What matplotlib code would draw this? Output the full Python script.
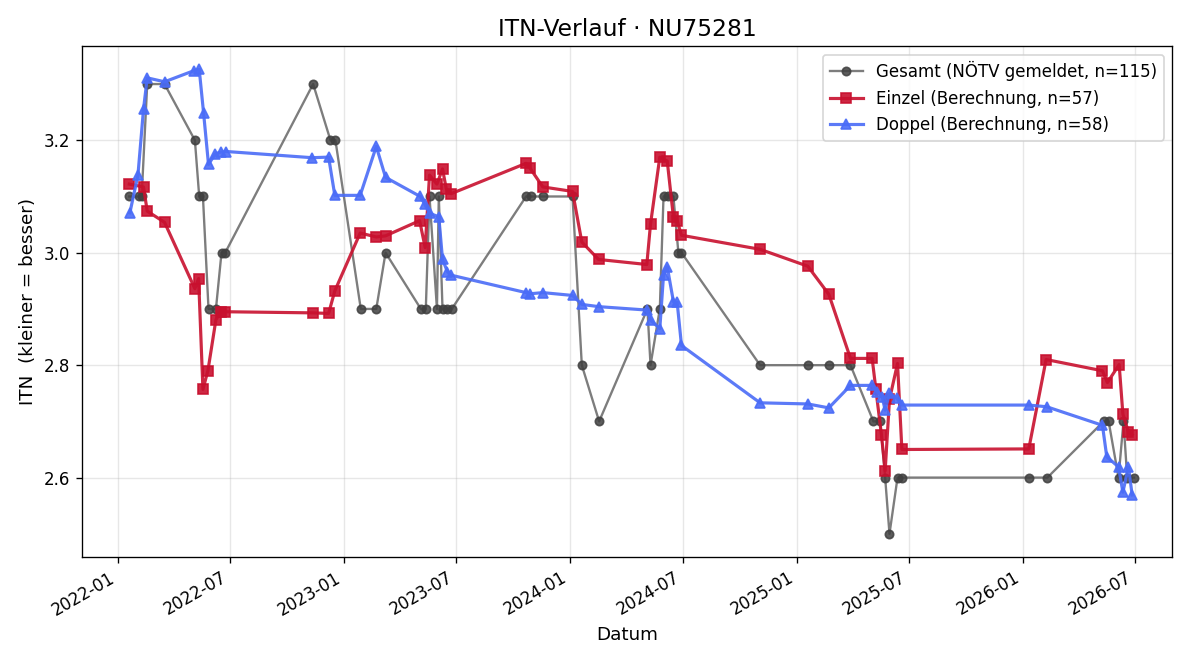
import pandas as pd
import matplotlib.pyplot as plt
import matplotlib.dates as mdates

# Gesamt (NÖTV gemeldet)
ges_dates = ["2022-01-19", "2022-02-03", "2022-02-08", "2022-02-17", "2022-03-17",
             "2022-05-05", "2022-05-12", "2022-05-18", "2022-05-27", "2022-06-08",
             "2022-06-17", "2022-06-23", "2022-11-12", "2022-12-10", "2022-12-18",
             "2023-01-28", "2023-02-22", "2023-03-09", "2023-05-05", "2023-05-13",
             "2023-05-19", "2023-05-31", "2023-06-03", "2023-06-09", "2023-06-17",
             "2023-06-24", "2023-10-22", "2023-10-30", "2023-11-18", "2024-01-05",
             "2024-01-20", "2024-02-17", "2024-05-05", "2024-05-10", "2024-05-25",
             "2024-05-31", "2024-06-08", "2024-06-16", "2024-06-24", "2024-06-29",
             "2024-11-03", "2025-01-19", "2025-02-22", "2025-03-29", "2025-05-05",
             "2025-05-16", "2025-05-24", "2025-05-31", "2025-06-13", "2025-06-20",
             "2026-01-12", "2026-02-10", "2026-05-12", "2026-05-20", "2026-06-05",
             "2026-06-13", "2026-06-19", "2026-06-30"]
ges_vals = [3.1, 3.1, 3.1, 3.3, 3.3,
            3.2, 3.1, 3.1, 2.9, 2.9,
            3.0, 3.0, 3.3, 3.2, 3.2,
            2.9, 2.9, 3.0, 2.9, 2.9,
            3.1, 2.9, 3.1, 2.9, 2.9,
            2.9, 3.1, 3.1, 3.1, 3.1,
            2.8, 2.7, 2.9, 2.8, 2.9,
            3.1, 3.1, 3.1, 3.0, 3.0,
            2.8, 2.8, 2.8, 2.8, 2.7,
            2.7, 2.6, 2.5, 2.6, 2.6,
            2.6, 2.6, 2.7, 2.7, 2.6,
            2.7, 2.6, 2.6]

# Einzel (Berechnung)
ein_dates = ["2022-01-19", "2022-02-11", "2022-02-17", "2022-03-17", "2022-05-05",
             "2022-05-11", "2022-05-18", "2022-05-26", "2022-06-08", "2022-06-16",
             "2022-06-23", "2022-11-11", "2022-12-07", "2022-12-17", "2023-01-27",
             "2023-02-22", "2023-03-09", "2023-05-03", "2023-05-12", "2023-05-19",
             "2023-05-31", "2023-06-09", "2023-06-15", "2023-06-23", "2023-10-22",
             "2023-10-28", "2023-11-18", "2024-01-05", "2024-01-20", "2024-02-16",
             "2024-05-04", "2024-05-10", "2024-05-25", "2024-06-06", "2024-06-16",
             "2024-06-22", "2024-06-29", "2024-11-03", "2025-01-19", "2025-02-22",
             "2025-03-29", "2025-05-03", "2025-05-09", "2025-05-18", "2025-05-24",
             "2025-05-31", "2025-06-13", "2025-06-20", "2026-01-11", "2026-02-08",
             "2026-05-10", "2026-05-18", "2026-06-06", "2026-06-12", "2026-06-21",
             "2026-06-27"]
ein_vals = [3.122, 3.117, 3.074, 3.054, 2.936,
            2.954, 2.757, 2.790, 2.881, 2.895,
            2.895, 2.893, 2.892, 2.932, 3.035,
            3.028, 3.030, 3.057, 3.009, 3.138,
            3.122, 3.149, 3.114, 3.105, 3.159,
            3.151, 3.117, 3.109, 3.019, 2.988,
            2.979, 3.051, 3.170, 3.163, 3.063,
            3.057, 3.031, 3.006, 2.976, 2.926,
            2.812, 2.812, 2.757, 2.676, 2.612,
            2.739, 2.803, 2.650, 2.651, 2.810,
            2.790, 2.769, 2.801, 2.713, 2.681,
            2.676]

# Doppel (Berechnung)
dop_dates = ["2022-01-20", "2022-02-02", "2022-02-11", "2022-02-17", "2022-03-17",
             "2022-05-04", "2022-05-12", "2022-05-19", "2022-05-27", "2022-06-07",
             "2022-06-16", "2022-06-25", "2022-11-10", "2022-12-07", "2022-12-17",
             "2023-01-27", "2023-02-22", "2023-03-09", "2023-05-04", "2023-05-11",
             "2023-05-19", "2023-06-03", "2023-06-09", "2023-06-17", "2023-06-23",
             "2023-10-22", "2023-10-29", "2023-11-18", "2024-01-05", "2024-01-20",
             "2024-02-17", "2024-05-04", "2024-05-10", "2024-05-25", "2024-05-31",
             "2024-06-06", "2024-06-16", "2024-06-22", "2024-06-29", "2024-11-03",
             "2025-01-19", "2025-02-22", "2025-03-29", "2025-05-03", "2025-05-11",
             "2025-05-19", "2025-05-24", "2025-05-31", "2025-06-12", "2025-06-20",
             "2026-01-11", "2026-02-09", "2026-05-10", "2026-05-17", "2026-06-05",
             "2026-06-12", "2026-06-21", "2026-06-27"]
dop_vals = [3.071, 3.138, 3.255, 3.311, 3.304,
            3.324, 3.326, 3.249, 3.157, 3.176,
            3.179, 3.180, 3.169, 3.170, 3.102,
            3.102, 3.189, 3.134, 3.100, 3.087,
            3.070, 3.064, 2.988, 2.966, 2.960,
            2.929, 2.927, 2.929, 2.924, 2.908,
            2.904, 2.898, 2.880, 2.865, 2.960,
            2.975, 2.913, 2.912, 2.835, 2.733,
            2.731, 2.724, 2.764, 2.764, 2.753,
            2.744, 2.720, 2.750, 2.741, 2.729,
            2.729, 2.726, 2.693, 2.637, 2.619,
            2.574, 2.619, 2.569]

ges_x = pd.to_datetime(ges_dates)
ein_x = pd.to_datetime(ein_dates)
dop_x = pd.to_datetime(dop_dates)

fig, ax = plt.subplots(figsize=(10, 5.5), dpi=120)

ax.plot(ges_x, ges_vals, color='#666666', alpha=0.85, linewidth=1.4,
        marker='o', markersize=5, markerfacecolor='#404040', markeredgecolor='#404040',
        label='Gesamt (NÖTV gemeldet, n=115)', zorder=2)
ax.plot(ein_x, ein_vals, color='#C8102E', alpha=0.9, linewidth=1.9,
        marker='s', markersize=6, label='Einzel (Berechnung, n=57)', zorder=3)
ax.plot(dop_x, dop_vals, color='#4A6CF7', alpha=0.9, linewidth=1.9,
        marker='^', markersize=6, label='Doppel (Berechnung, n=58)', zorder=3)

ax.set_title('ITN-Verlauf · NU75281', fontsize=14)
ax.set_xlabel('Datum', fontsize=11)
ax.set_ylabel('ITN  (kleiner = besser)', fontsize=11)
ax.set_yticks([2.6, 2.8, 3.0, 3.2])
ax.set_xlim(pd.Timestamp('2021-11-03'), pd.Timestamp('2026-08-31'))
ax.xaxis.set_major_locator(mdates.MonthLocator(bymonth=[1, 7]))
ax.xaxis.set_major_formatter(mdates.DateFormatter('%Y-%m'))
ax.grid(True, alpha=0.3)
ax.legend(loc='upper right')
fig.autofmt_xdate()
fig.subplots_adjust(left=0.068, right=0.977, top=0.930, bottom=0.156)
fig.savefig('out.png')
